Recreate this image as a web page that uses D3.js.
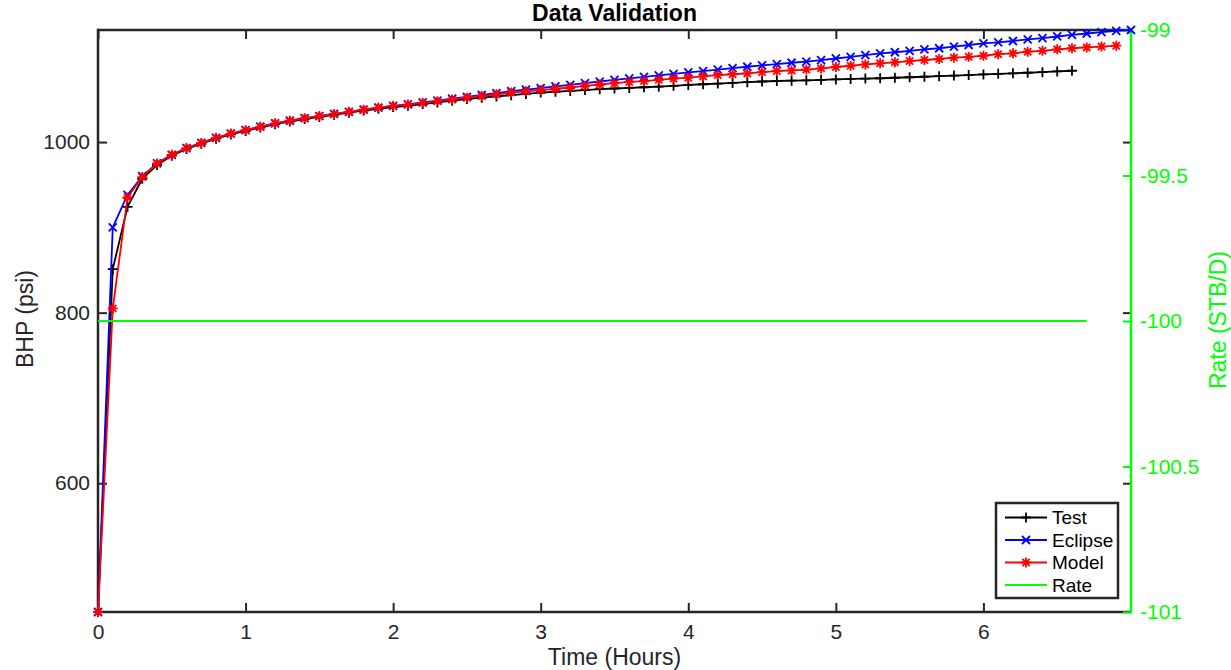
<!DOCTYPE html>
<html><head><meta charset="utf-8">
<script src="https://cdn.jsdelivr.net/npm/d3@7"></script>
<style>body{margin:0;background:#fff} text{font-family:"Liberation Sans",Arial,Helvetica,sans-serif}</style>
</head><body><svg id="c" width="1231" height="670"></svg>
<script>
// ---- data ----
const time = [0,0.1,0.2,0.3,0.4,0.5,0.6,0.7,0.8,0.9,1.0,1.1,1.2,1.3,1.4,1.5,1.6,1.7,1.8,1.9,2.0,
  2.1,2.2,2.3,2.4,2.5,2.6,2.7,2.8,2.9,3.0,3.1,3.2,3.3,3.4,3.5,3.6,3.7,3.8,3.9,4.0,
  4.1,4.2,4.3,4.4,4.5,4.6,4.7,4.8,4.9,5.0,5.1,5.2,5.3,5.4,5.5,5.6,5.7,5.8,5.9,6.0,
  6.1,6.2,6.3,6.4,6.5,6.6,6.7,6.8,6.9,7.0];
const testBHP = [449,851,924,957,973,984,992,998,1004,1009,1013,1017,1021,1024,1027,1029.5,1032,1034.5,1037,1039,1041,
  1042.5,1044.5,1046.5,1048.5,1050.5,1052,1053.5,1055,1056.5,1058,1059,1060,1061,1062,1062.8,1063.5,1064.3,1065,1066,1067,
  1067.8,1068.6,1069.4,1070.2,1071,1071.6,1072,1072.4,1073,1073.5,1074,1074.4,1074.8,1075.4,1076,1076.6,1077.3,1078,1078.6,1079.3,
  1080,1080.6,1081.3,1082,1082.8,1083.6];
const eclipseBHP = [449,900,938,960,975,985,993,999,1005,1010,1014,1018,1022,1025,1028,1030.5,1033,1035.5,1038,1040.5,1042.5,
  1044.3,1046.5,1048.6,1050.8,1053,1055.2,1057.4,1059.6,1061.5,1063.3,1065.2,1067,1069,1071,1073,1074.8,1076.5,1078.2,1080,1081.6,
  1083.3,1085,1086.6,1088.3,1090,1091.5,1093,1094.2,1096,1098,1100,1102,1104,1105.3,1107,1108.7,1110,1111.8,1113.8,1115.8,
  1117,1118.5,1120.5,1121.8,1123.8,1125.8,1127.3,1129,1130.4,1131.4];
const modelBHP = [449,805,935,959,975,985,993,999,1005,1010,1014,1018,1022,1025,1028,1030.5,1033,1035.5,1038,1040.5,1042.5,
  1044,1046,1048,1050,1052,1054,1056,1058,1059.5,1061,1062.5,1064,1066,1067.5,1069,1070.5,1071.5,1073,1074.5,1075.5,
  1077,1078.5,1079.5,1080.5,1082,1083.3,1084,1085,1086.4,1088,1089.5,1091,1092.3,1093.5,1095,1096.2,1097.4,1099,1100,1101.2,
  1103,1104,1106,1107,1108.7,1110,1111,1112,1113];
const rateTime = [0, 6.7];
const rateValue = [-100, -100];
const xTicks = [0,1,2,3,4,5,6];
const yLeftTicks = [600,800,1000];
const yRightTicks = [-101,-100.5,-100,-99.5,-99];
const legendLabels = ["Test","Eclipse","Model","Rate"];

// ---- layout ----
const m = {l:98, r:1131, t:30, b:612};
const axisColor = '#262626';
const svg = d3.select('#c');
const x = d3.scaleLinear().domain([0,7]).range([m.l,m.r]);
const yL = d3.scaleLinear().domain([449,1131.4]).range([m.b,m.t]);
const yR = d3.scaleLinear().domain([-101,-99]).range([m.b,m.t]);

function styleAxis(g, color, fs){
  g.select('.domain').remove();
  g.attr('font-family', null).attr('font-size', null);
  g.selectAll('.tick line').attr('stroke', color).attr('stroke-width', 2);
  g.selectAll('.tick text').attr('fill', color).attr('font-size', fs);
}

// frame
svg.append('line').attr('x1',m.l).attr('x2',m.r).attr('y1',m.t).attr('y2',m.t).attr('stroke',axisColor).attr('stroke-width',2.5);
svg.append('line').attr('x1',m.l).attr('x2',m.r).attr('y1',m.b).attr('y2',m.b).attr('stroke',axisColor).attr('stroke-width',2.5);
svg.append('line').attr('x1',m.l).attr('x2',m.l).attr('y1',m.t-1.25).attr('y2',m.b+1.25).attr('stroke',axisColor).attr('stroke-width',2.5);

// axes
svg.append('g').attr('transform',`translate(0,${m.b})`)
  .call(d3.axisBottom(x).tickValues(xTicks).tickSizeInner(-9).tickSizeOuter(0).tickPadding(12).tickFormat(d3.format('d')))
  .call(g=>styleAxis(g, axisColor, 21));
svg.append('g').attr('transform',`translate(0,${m.t})`)
  .call(d3.axisTop(x).tickValues(xTicks).tickSizeInner(-9).tickSizeOuter(0).tickFormat(''))
  .call(g=>styleAxis(g, axisColor, 21));
svg.append('g').attr('transform',`translate(${m.l},0)`)
  .call(d3.axisLeft(yL).tickValues(yLeftTicks).tickSizeInner(-9).tickSizeOuter(0).tickPadding(8).tickFormat(d3.format('d')))
  .call(g=>styleAxis(g, axisColor, 21));
svg.append('g').attr('transform',`translate(${m.r},0)`)
  .call(d3.axisRight(yL).tickValues(yLeftTicks).tickSizeInner(-8).tickSizeOuter(0).tickFormat(''))
  .call(g=>styleAxis(g, axisColor, 21));
svg.append('g').attr('transform',`translate(${m.r},0)`)
  .call(d3.axisRight(yR).tickValues(yRightTicks).tickSizeInner(-8).tickSizeOuter(0).tickPadding(9).tickFormat(d=>String(d)))
  .call(g=>styleAxis(g, '#00ff00', 21));
svg.append('line').attr('x1',m.r).attr('x2',m.r).attr('y1',m.t-1.25).attr('y2',m.b+1.25).attr('stroke','#00ff00').attr('stroke-width',2.5);

// markers
const markers = {
  plus: 'M-5,0H5M0,-5V5',
  cross: 'M-4,-4L4,4M-4,4L4,-4',
  star: 'M-5,0H5M0,-5V5M-3.6,-3.6L3.6,3.6M-3.6,3.6L3.6,-3.6'
};
const series = [
  {vals:testBHP, color:'#000000', marker:'plus'},
  {vals:eclipseBHP, color:'#0000ff', marker:'cross'},
  {vals:modelBHP, color:'#ff0000', marker:'star'}
];
const line = d3.line().x(d=>x(d[0])).y(d=>yL(d[1]));
series.forEach(s=>{
  const pts = s.vals.map((v,i)=>[time[i], v]);
  svg.append('path').datum(pts).attr('d',line).attr('fill','none').attr('stroke',s.color).attr('stroke-width',1.8).attr('stroke-linejoin','round');
  svg.append('g').selectAll('path').data(pts).join('path')
    .attr('transform',d=>`translate(${x(d[0])},${yL(d[1])})`)
    .attr('d',markers[s.marker]).attr('fill','none').attr('stroke',s.color).attr('stroke-width',1.8);
});
const ratePts = rateTime.map((t,i)=>[t, rateValue[i]]);
svg.append('path').datum(ratePts).attr('d', d3.line().x(d=>x(d[0])).y(d=>yR(d[1])))
  .attr('fill','none').attr('stroke','#00ff00').attr('stroke-width',2);

// labels
svg.append('text').attr('x',(m.l+m.r)/2).attr('y',21).attr('text-anchor','middle')
  .attr('font-size',23).attr('font-weight','bold').attr('fill','#000').text('Data Validation');
svg.append('text').attr('x',(m.l+m.r)/2).attr('y',665).attr('text-anchor','middle')
  .attr('font-size',23).attr('fill',axisColor).text('Time (Hours)');
svg.append('text').attr('transform','translate(33,319) rotate(-90)').attr('text-anchor','middle')
  .attr('font-size',23).attr('fill',axisColor).text('BHP (psi)');
svg.append('text').attr('transform','translate(1226,320) rotate(-90)').attr('text-anchor','middle')
  .attr('font-size',23).attr('fill','#00ff00').text('Rate (STB/D)');

// legend
const lg = svg.append('g');
lg.append('rect').attr('x',996).attr('y',503).attr('width',122).attr('height',95)
  .attr('fill','#fff').attr('stroke',axisColor).attr('stroke-width',2.5);
const legendItems = [
  {label:legendLabels[0], color:'#000000', marker:'plus'},
  {label:legendLabels[1], color:'#0000ff', marker:'cross'},
  {label:legendLabels[2], color:'#ff0000', marker:'star'},
  {label:legendLabels[3], color:'#00ff00', marker:null}
];
legendItems.forEach((it,i)=>{
  const yy = 517.5 + i*22.5;
  lg.append('line').attr('x1',1005).attr('x2',1047).attr('y1',yy).attr('y2',yy).attr('stroke',it.color).attr('stroke-width',2);
  if(it.marker) lg.append('path').attr('transform',`translate(1026,${yy})`).attr('d',markers[it.marker])
    .attr('fill','none').attr('stroke',it.color).attr('stroke-width',1.8);
  lg.append('text').attr('x',1052).attr('y',yy).attr('dy','0.35em').attr('font-size',19).attr('fill','#000').text(it.label);
});
</script></body></html>
